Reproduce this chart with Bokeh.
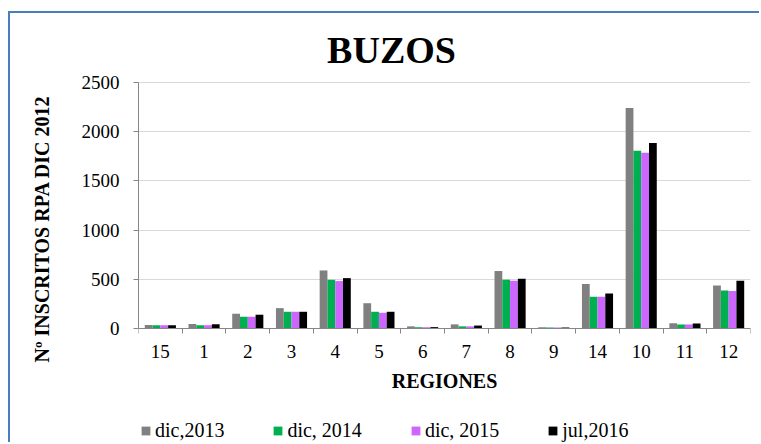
from bokeh.plotting import figure
from bokeh.models import (ColumnDataSource, Range1d, FixedTicker, Legend, LegendItem, Label)
from bokeh.transform import dodge
from bokeh.embed import file_html
from bokeh.resources import INLINE

regions = ["15", "1", "2", "3", "4", "5", "6", "7", "8", "9", "14", "10", "11", "12"]
dic2013 = [35, 47, 150, 207, 590, 257, 22, 42, 584, 12, 453, 2241, 54, 438]
dic2014 = [33, 33, 120, 170, 495, 170, 13, 22, 496, 10, 322, 1807, 41, 387]
dic2015 = [33, 33, 120, 170, 482, 160, 13, 22, 486, 10, 322, 1786, 41, 380]
jul2016 = [33, 43, 140, 170, 512, 170, 14, 30, 506, 10, 356, 1885, 51, 486]
series_names = ["dic,2013", "dic, 2014", "dic, 2015", "jul,2016"]
series_values = [dic2013, dic2014, dic2015, jul2016]
colors = ["#808080", "#00B050", "#CC66FF", "#000000"]
y_ticks = [0, 500, 1000, 1500, 2000, 2500]

FONT = "Liberation Serif"
n = len(regions)
centers = [i + 0.5 for i in range(n)]
bounds = [i for i in range(n + 1)]

# layout (pixels, canvas coordinates)
W, H = 751, 431
left, right = 128, 11
frame_w = W - left - right
value_top = 69              # pixel row of 2500 below the canvas top
value_h = 246               # pixels used by 0..2500
y_max = 2500
upp = y_max / value_h       # units per pixel
y_hi = y_max + value_top * upp
y_lo = -(H - value_top - value_h) * upp

p = figure(width=W, height=H, output_backend="svg", toolbar_location=None, title=None,
           x_range=Range1d(0, n), y_range=Range1d(y_lo, y_hi),
           min_border_left=left, min_border_right=right, min_border_top=0, min_border_bottom=0)
p.margin = (11, 0, 0, 8)
p.styles = {"border-top": "2px solid #4A7EBB", "border-left": "2px solid #4A7EBB"}

# title drawn inside the (tall) frame
ppc = frame_w / n           # pixels per category
title = Label(x=(381 - left) / ppc, y=y_max + (value_top - 36.5) * upp, text="BUZOS",
              text_font=FONT, text_font_size="38px", text_font_style="bold",
              text_align="center", text_baseline="middle", text_color="black")
p.add_layout(title)

src = ColumnDataSource(dict(x=centers, **{f"s{k}": v for k, v in enumerate(series_values)}))
bw = 0.178
offs = [-1.5 * bw, -0.5 * bw, 0.5 * bw, 1.5 * bw]
renderers = []
for k in range(4):
    r = p.vbar(x=dodge("x", offs[k], range=p.x_range), top=f"s{k}", width=bw, bottom=0,
               source=src, fill_color=colors[k], line_color=None)
    renderers.append(r)

p.outline_line_color = None
p.xgrid.grid_line_color = None
p.ygrid.grid_line_color = "#D9D9D9"
p.ygrid.grid_line_width = 1

xa = p.xaxis[0]
xa.fixed_location = 0
xa.ticker = FixedTicker(ticks=centers, minor_ticks=bounds)
xa.major_label_overrides = {c: r for c, r in zip(centers, regions)}
xa.major_tick_line_color = None
xa.minor_tick_line_color = "#868686"
xa.minor_tick_in = 0
xa.minor_tick_out = 5
xa.axis_line_color = "#868686"
xa.major_label_text_font = FONT
xa.major_label_text_font_size = "19px"
xa.major_label_text_color = "black"
xa.major_label_standoff = 10
xa.axis_label = "REGIONES"
xa.axis_label_text_font = FONT
xa.axis_label_text_font_size = "20px"
xa.axis_label_text_font_style = "bold"
xa.axis_label_text_color = "black"
xa.axis_label_standoff = 9

ya = p.yaxis[0]
ya.ticker = FixedTicker(ticks=y_ticks)
ya.bounds = (0, y_max)
ya.minor_tick_line_color = None
ya.major_tick_in = 0
ya.major_tick_out = 5
ya.major_tick_line_color = "#868686"
ya.axis_line_color = "#868686"
ya.major_label_text_font = FONT
ya.major_label_text_font_size = "19px"
ya.major_label_text_color = "black"
ya.major_label_standoff = 14
ya.axis_label = "Nº INSCRITOS RPA DIC 2012"
ya.axis_label_text_font = FONT
ya.axis_label_text_font_size = "20px"
ya.axis_label_text_font_style = "bold"
ya.axis_label_text_color = "black"
ya.axis_label_standoff = 26

legend = Legend(items=[LegendItem(label=series_names[k], renderers=[renderers[k]]) for k in range(4)],
                orientation="horizontal", location=(2, 2),
                label_text_font=FONT, label_text_font_size="20px", label_text_color="black",
                glyph_width=11, glyph_height=11, label_standoff=4, spacing=48,
                border_line_color=None, background_fill_alpha=0, margin=0, padding=2)
p.add_layout(legend)

open("out.html", "w").write(file_html(p, INLINE))
